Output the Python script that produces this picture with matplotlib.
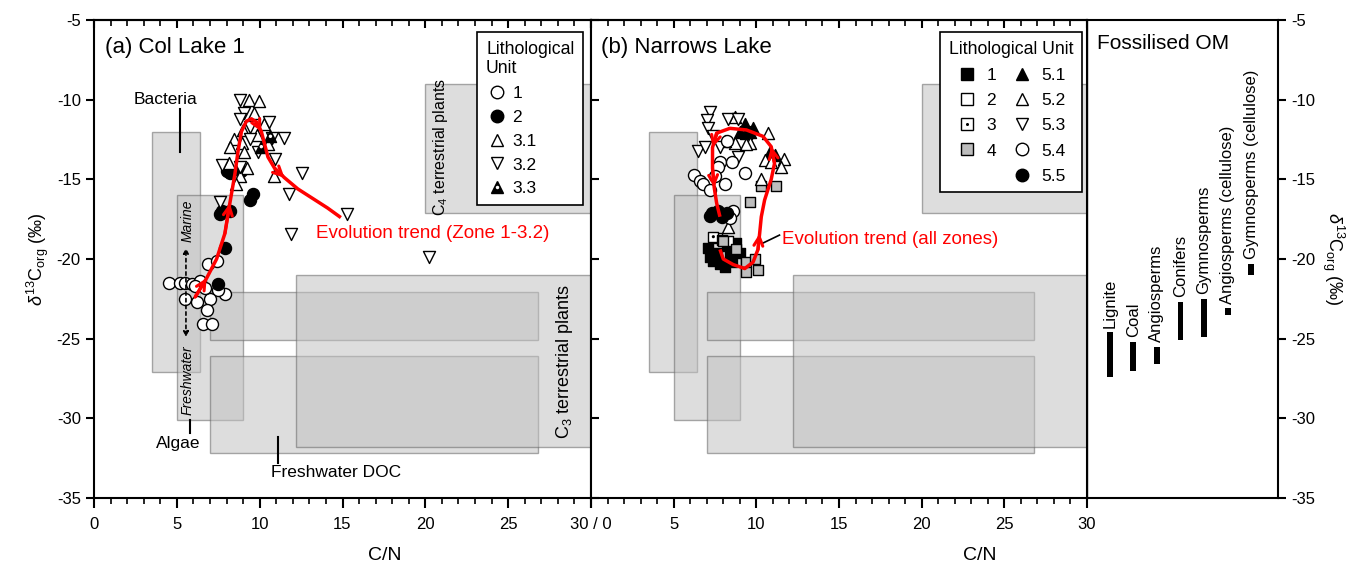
import numpy as np
import matplotlib
matplotlib.use('Agg')
import matplotlib.pyplot as plt
from matplotlib.patches import Rectangle
from matplotlib.legend_handler import HandlerTuple
from matplotlib.lines import Line2D

plt.rcParams['font.family'] = ['Liberation Sans', 'DejaVu Sans']
plt.rcParams['mathtext.fontset'] = 'custom'
plt.rcParams['mathtext.rm'] = 'Liberation Sans'
plt.rcParams['mathtext.it'] = 'Liberation Sans:italic'
plt.rcParams['font.size'] = 12
plt.rcParams['axes.unicode_minus'] = False

# ---- reference fields (x0, x1, y0, y1) ----
field_names = ['Bacteria', 'Algae', 'DOC upper', 'DOC lower', 'C3', 'C4']
field_x0 = [3.5, 5.0, 7.0, 7.0, 12.2, 20.0]
field_x1 = [6.4, 9.0, 26.8, 26.8, 31.0, 31.0]
field_y0 = [-27.1, -30.1, -25.1, -32.2, -31.8, -17.1]
field_y1 = [-12.0, -16.0, -22.1, -26.1, -21.0, -9.0]

# ---- (a) Col Lake 1 ----
a_u1_x = [4.5, 5.2, 5.5, 5.9, 6.4, 6.9, 7.4, 7.9, 7.5, 7.0, 5.5, 6.2, 6.8, 6.6, 7.1, 6.1, 6.7]
a_u1_y = [-21.5, -21.5, -21.5, -21.6, -21.4, -20.3, -20.1, -22.2, -21.95, -22.5, -22.5, -22.7, -23.2, -24.1, -24.1, -21.7, -21.8]
a_u2_x = [8.0, 8.2, 8.9, 9.6, 9.4, 7.7, 8.2, 7.6, 7.9, 7.5]
a_u2_y = [-14.5, -14.6, -14.5, -15.9, -16.3, -17.0, -17.0, -17.2, -19.3, -21.6]
a_u31_x = [9.33, 9.94, 9.64, 10.24, 8.43, 8.93, 9.84, 8.23, 9.03, 8.13, 9.24, 10.85, 8.83, 9.0, 10.5, 8.6]
a_u31_y = [-10.0, -10.1, -10.86, -11.5, -12.5, -12.7, -12.2, -12.95, -13.3, -14.0, -14.3, -14.8, -14.8, -11.9, -12.8, -15.3]
a_u32_x = [8.83, 9.03, 8.83, 10.55, 9.44, 9.44, 10.75, 11.45, 7.72, 8.83, 10.95, 12.56, 11.75, 7.62, 15.3, 11.9, 20.2, 9.9]
a_u32_y = [-10.0, -10.86, -11.2, -11.4, -11.7, -12.5, -12.4, -12.4, -14.1, -14.2, -13.7, -14.6, -15.9, -16.4, -17.2, -18.4, -19.9, -13.3]
a_u33_x = [10.65, 10.1]
a_u33_y = [-12.3, -12.95]
a_trend_x = [6.1, 6.8, 7.4, 7.9, 8.2, 8.5, 8.7, 8.9, 9.2, 9.5, 9.8, 10.1, 10.3, 10.5, 10.9, 11.5, 12.3, 13.2, 14.1, 14.9]
a_trend_y = [-22.4, -21.2, -20.0, -18.4, -16.5, -14.7, -13.2, -12.0, -11.35, -11.2, -11.4, -12.0, -12.8, -13.6, -14.3, -14.9, -15.6, -16.2, -16.8, -17.4]
a_arrow_idx = [1, 4, 11, 15]

# ---- (b) Narrows Lake ----
b_u1_x = [7.1, 7.2, 7.6, 8.2, 8.4, 7.8, 8.1, 8.8, 9.0, 7.4, 8.5]
b_u1_y = [-19.3, -19.85, -19.6, -19.2, -19.75, -20.3, -20.5, -19.0, -19.6, -20.1, -20.2]
b_u2_x = [7.6, 8.3]
b_u2_y = [-18.7, -18.9]
b_u3_x = [7.4, 7.9]
b_u3_y = [-18.6, -18.8]
b_u4_x = [8.0, 8.8, 9.4, 9.4, 10.1, 9.6, 10.3, 11.2, 9.9]
b_u4_y = [-18.9, -19.4, -20.2, -20.8, -20.7, -16.4, -15.4, -15.4, -20.0]
b_u51_x = [9.3, 9.8, 9.4, 10.8, 11.1, 9.0, 9.6]
b_u51_y = [-11.5, -11.8, -12.1, -13.3, -13.5, -12.0, -12.0]
b_u52_x = [8.7, 10.7, 9.6, 9.4, 10.5, 10.9, 11.7, 11.5, 10.3, 8.7, 8.3, 8.1]
b_u52_y = [-11.1, -12.1, -12.7, -12.8, -13.8, -13.9, -13.7, -14.2, -15.0, -12.7, -18.0, -12.6]
b_u53_x = [7.2, 7.0, 7.1, 8.3, 8.9, 6.5, 6.9, 7.8, 8.9, 7.4]
b_u53_y = [-10.75, -11.3, -11.8, -11.2, -11.2, -13.2, -13.0, -13.0, -13.6, -12.3]
b_u54_x = [8.2, 7.8, 7.7, 8.5, 9.3, 6.2, 6.6, 6.8, 7.5, 8.1, 7.2, 8.6, 8.4]
b_u54_y = [-12.6, -13.9, -14.2, -13.9, -14.6, -14.7, -15.1, -15.3, -14.8, -15.3, -15.7, -17.0, -17.4]
b_u55_x = [7.3, 7.7, 8.2, 7.2, 7.9]
b_u55_y = [-17.1, -17.0, -17.1, -17.3, -17.35]
b_trend_x = [7.8, 8.0, 8.6, 9.3, 9.8, 10.1, 10.2, 10.3, 10.5, 10.9, 11.1, 10.9, 10.4, 9.4, 8.4, 7.6, 7.35, 7.35, 7.45, 7.6, 7.8]
b_trend_y = [-19.4, -20.0, -20.35, -20.6, -20.2, -19.4, -18.4, -17.35, -16.3, -15.0, -14.0, -12.95, -12.3, -11.9, -11.8, -12.1, -13.0, -14.3, -15.5, -16.5, -17.35]
b_arrow_idx = [6, 11, 16, 18]

# ---- (c) Fossilised OM ----
om_names = ['Lignite', 'Coal', 'Angiosperms', 'Conifers', 'Gymnosperms',
            'Angiosperms (cellulose)', 'Gymnosperms (cellulose)']
om_top = [-24.6, -25.2, -25.5, -22.7, -22.5, -23.1, -20.3]
om_bottom = [-27.4, -27.0, -26.6, -25.1, -24.9, -23.5, -21.0]

fig = plt.figure(figsize=(13.59, 5.74), dpi=100)
axa = fig.add_axes([94/1359, 76/574, 497/1359, 478/574])
axb = fig.add_axes([591/1359, 76/574, 496/1359, 478/574])
axc = fig.add_axes([1087/1359, 76/574, 191/1359, 478/574])

ms = 75


def draw_fields(ax):
    for i in range(len(field_names)):
        ax.add_patch(Rectangle((field_x0[i], field_y0[i]), field_x1[i] - field_x0[i],
                               field_y1[i] - field_y0[i], facecolor=(0.76, 0.76, 0.76, 0.55),
                               edgecolor=(0.4, 0.4, 0.4, 0.55), lw=1.0, zorder=1))


def draw_trend(ax, tx, ty, idx):
    ax.plot(tx, ty, color='red', lw=2.5, zorder=6, solid_capstyle='butt')
    for i in idx:
        ax.annotate('', xy=(tx[i], ty[i]), xytext=(tx[i - 1], ty[i - 1]),
                    arrowprops=dict(arrowstyle='->', color='red', lw=2.2, mutation_scale=16,
                                    shrinkA=0, shrinkB=0), zorder=7)


def style_axes(ax, left_dir):
    ax.set_xlim(0, 30)
    ax.set_ylim(-35, -5)
    ax.set_xticks(np.arange(0, 31, 5))
    ax.set_xticks(np.arange(0, 31, 1), minor=True)
    ax.set_yticks(np.arange(-35, -4, 5))
    ax.tick_params(axis='x', which='major', direction='out', length=7, width=1.5, pad=7, labelsize=12)
    ax.tick_params(axis='x', which='minor', direction='out', length=4, width=1.2)
    ax.tick_params(axis='y', which='major', direction=left_dir, length=6, width=1.5, labelsize=12)
    sec = ax.secondary_xaxis('top')
    sec.set_xticks(np.arange(0, 31, 5))
    sec.set_xticks(np.arange(0, 31, 1), minor=True)
    sec.tick_params(which='major', direction='in', length=6, width=1.5, labeltop=False)
    sec.tick_params(which='minor', direction='in', length=4, width=1.2)
    sec.spines['top'].set_linewidth(1.5)
    for s in ax.spines.values():
        s.set_linewidth(1.5)


# panel a
draw_fields(axa)
axa.scatter(a_u1_x, a_u1_y, s=ms, marker='o', facecolor='white', edgecolor='black', lw=1, zorder=3)
axa.scatter(a_u2_x, a_u2_y, s=ms, marker='o', facecolor='black', edgecolor='black', lw=1, zorder=3)
axa.scatter(a_u31_x, a_u31_y, s=ms, marker='^', facecolor='white', edgecolor='black', lw=1, zorder=3)
axa.scatter(a_u32_x, a_u32_y, s=ms, marker='v', facecolor='white', edgecolor='black', lw=1, zorder=3)
axa.scatter(a_u33_x, a_u33_y, s=ms, marker='^', facecolor='black', edgecolor='black', lw=1, zorder=3)
axa.scatter(a_u33_x, a_u33_y, s=6, marker='o', facecolor='white', edgecolor='none', zorder=4)
draw_trend(axa, a_trend_x, a_trend_y, a_arrow_idx)
style_axes(axa, 'out')
axa.set_xticklabels(['0', '5', '10', '15', '20', '25', ''])
axa.set_ylabel(r'$\delta^{13}$C$_{\mathrm{org}}$ (‰)', fontsize=13, labelpad=4)

axa.text(0.65, -6.7, '(a) Col Lake 1', fontsize=16, va='center', ha='left')
axa.text(4.3, -10.0, 'Bacteria', fontsize=12.5, ha='center', va='center')
axa.plot([5.2, 5.2], [-10.6, -13.3], color='black', lw=1.5)
axa.text(5.1, -31.6, 'Algae', fontsize=12.5, ha='center', va='center')
axa.plot([5.8, 5.8], [-30.1, -30.9], color='black', lw=1.5)
axa.text(14.6, -33.4, 'Freshwater DOC', fontsize=12.5, ha='center', va='center')
axa.plot([11.1, 11.1], [-31.2, -32.8], color='black', lw=1.5)
axa.text(20.9, -13.0, 'C$_4$ terrestrial plants', rotation=90, fontsize=11.5, ha='center', va='center')
axa.text(28.4, -26.4, 'C$_3$ terrestrial plants', rotation=90, fontsize=13, ha='center', va='center')
axa.text(5.65, -17.6, 'Marine', rotation=90, style='italic', fontsize=10, ha='center', va='center')
axa.text(5.65, -27.6, 'Freshwater', rotation=90, style='italic', fontsize=10, ha='center', va='center')
axa.annotate('', xy=(5.55, -19.3), xytext=(5.55, -24.9),
             arrowprops=dict(arrowstyle='<|-|>', linestyle=(0, (2, 2)), color='black', lw=1.2,
                             mutation_scale=8, shrinkA=0, shrinkB=0))
axa.text(13.4, -18.4, 'Evolution trend (Zone 1-3.2)', color='red', fontsize=13.5, va='center', ha='left')

h33 = (Line2D([], [], marker='^', ls='none', mfc='black', mec='black', ms=9),
       Line2D([], [], marker='o', ls='none', mfc='white', mec='none', ms=2.5))
handles_a = [Line2D([], [], marker='o', ls='none', mfc='white', mec='black', ms=9),
             Line2D([], [], marker='o', ls='none', mfc='black', mec='black', ms=9),
             Line2D([], [], marker='^', ls='none', mfc='white', mec='black', ms=9),
             Line2D([], [], marker='v', ls='none', mfc='white', mec='black', ms=9),
             h33]
leg_a = axa.legend(handles_a, ['1', '2', '3.1', '3.2', '3.3'], title='Lithological\nUnit',
                   loc='upper right', bbox_to_anchor=(0.984, 0.975), borderaxespad=0,
                   frameon=True, fancybox=False, edgecolor='black', framealpha=1,
                   fontsize=12.5, title_fontsize=12.7, handletextpad=0.3, handlelength=1.2,
                   labelspacing=0.5, borderpad=0.5,
                   handler_map={tuple: HandlerTuple(ndivide=1)})
leg_a._legend_box.align = 'left'
leg_a.get_frame().set_linewidth(1.2)
leg_a.set_zorder(10)

# panel b
draw_fields(axb)
axb.scatter(b_u1_x, b_u1_y, s=60, marker='s', facecolor='black', edgecolor='black', lw=1, zorder=3)
axb.scatter(b_u2_x, b_u2_y, s=60, marker='s', facecolor='white', edgecolor='black', lw=1, zorder=3)
axb.scatter(b_u3_x, b_u3_y, s=60, marker='s', facecolor='white', edgecolor='black', lw=1, zorder=3)
axb.scatter(b_u3_x, b_u3_y, s=5, marker='o', facecolor='black', edgecolor='none', zorder=3)
axb.scatter(b_u4_x, b_u4_y, s=60, marker='s', facecolor='#bdbdbd', edgecolor='black', lw=1, zorder=3)
axb.scatter(b_u51_x, b_u51_y, s=ms, marker='^', facecolor='black', edgecolor='black', lw=1, zorder=3)
axb.scatter(b_u52_x, b_u52_y, s=ms, marker='^', facecolor='white', edgecolor='black', lw=1, zorder=3)
axb.scatter(b_u53_x, b_u53_y, s=ms, marker='v', facecolor='white', edgecolor='black', lw=1, zorder=3)
axb.scatter(b_u54_x, b_u54_y, s=ms, marker='o', facecolor='white', edgecolor='black', lw=1, zorder=3)
axb.scatter(b_u55_x, b_u55_y, s=ms, marker='o', facecolor='black', edgecolor='black', lw=1, zorder=3)
draw_trend(axb, b_trend_x, b_trend_y, b_arrow_idx)
style_axes(axb, 'in')
axb.set_yticklabels([])
axb.set_xticklabels(['30 / 0', '5', '10', '15', '20', '25', '30'])

axb.text(0.6, -6.7, '(b) Narrows Lake', fontsize=16, va='center', ha='left')
axb.text(11.55, -18.8, 'Evolution trend (all zones)', color='red', fontsize=13.5, va='center', ha='left')
axb.plot([10.4, 11.4], [-19.0, -18.5], color='black', lw=1.2)

h3 = (Line2D([], [], marker='s', ls='none', mfc='white', mec='black', ms=8),
      Line2D([], [], marker='o', ls='none', mfc='black', mec='none', ms=2.2))
handles_b = [Line2D([], [], marker='s', ls='none', mfc='black', mec='black', ms=8),
             Line2D([], [], marker='s', ls='none', mfc='white', mec='black', ms=8),
             h3,
             Line2D([], [], marker='s', ls='none', mfc='#bdbdbd', mec='black', ms=8),
             Line2D([], [], ls='none'),
             Line2D([], [], marker='^', ls='none', mfc='black', mec='black', ms=9),
             Line2D([], [], marker='^', ls='none', mfc='white', mec='black', ms=9),
             Line2D([], [], marker='v', ls='none', mfc='white', mec='black', ms=9),
             Line2D([], [], marker='o', ls='none', mfc='white', mec='black', ms=9),
             Line2D([], [], marker='o', ls='none', mfc='black', mec='black', ms=9)]
labels_b = ['1', '2', '3', '4', '', '5.1', '5.2', '5.3', '5.4', '5.5']
leg_b = axb.legend(handles_b, labels_b, title='Lithological Unit', ncol=2,
                   loc='upper right', bbox_to_anchor=(0.99, 0.975), borderaxespad=0,
                   frameon=True, fancybox=False, edgecolor='black', framealpha=1,
                   fontsize=12.5, title_fontsize=12.7, handletextpad=0.5, handlelength=1.2,
                   labelspacing=0.58, columnspacing=0.9, borderpad=0.5,
                   handler_map={tuple: HandlerTuple(ndivide=1)})
leg_b.get_frame().set_linewidth(1.2)
leg_b.set_zorder(10)

# panel c
om_x = np.arange(1, len(om_names) + 1)
axc.bar(om_x, np.array(om_top) - np.array(om_bottom), bottom=om_bottom, width=0.25,
        color='black', zorder=3)
for xi, name, top in zip(om_x, om_names, om_top):
    axc.text(xi, top + 0.3, name, rotation=90, ha='center', va='bottom', fontsize=12)
axc.set_xlim(0.03, 8.14)
axc.set_ylim(-35, -5)
axc.set_xticks([])
axc.yaxis.tick_right()
axc.yaxis.set_label_position('right')
axc.set_yticks(np.arange(-35, -4, 5))
axc.tick_params(axis='y', direction='out', length=6, width=1.5, labelsize=12)
axc.set_ylabel(r'$\delta^{13}$C$_{\mathrm{org}}$ (‰)', fontsize=13, rotation=270, labelpad=22)
axc.text(0.05, 0.95, 'Fossilised OM', transform=axc.transAxes, fontsize=15, ha='left', va='center')
for s in axc.spines.values():
    s.set_linewidth(1.5)
axc.spines['left'].set_linewidth(1.0)

fig.text(385/1359, 1 - 555/574, 'C/N', ha='center', va='center', fontsize=14)
fig.text(980/1359, 1 - 555/574, 'C/N', ha='center', va='center', fontsize=14)

fig.savefig('out.png', dpi=100)
